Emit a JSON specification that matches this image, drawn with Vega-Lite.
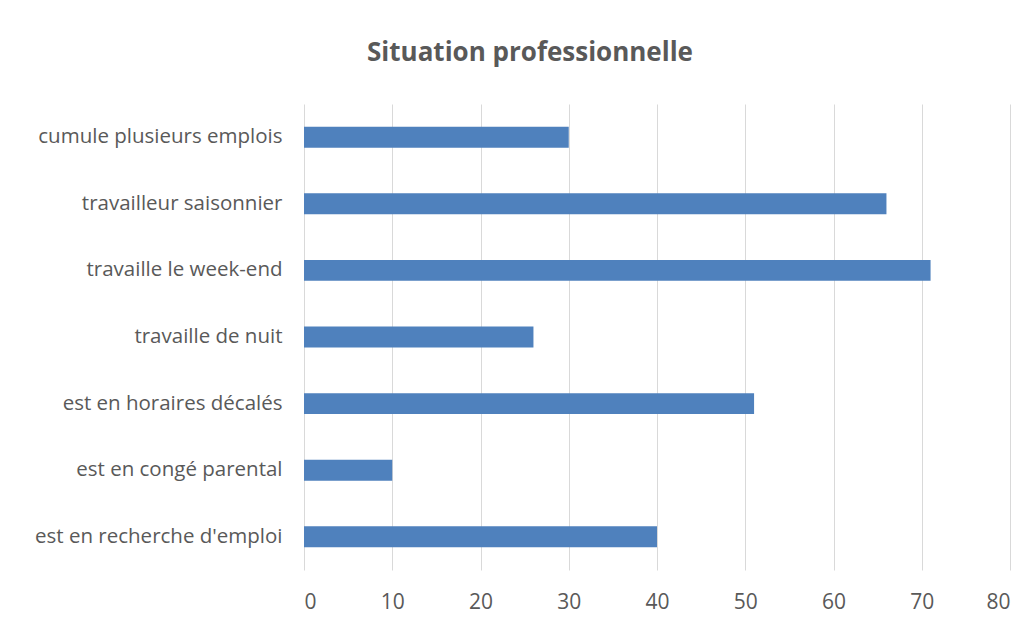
{
  "$schema": "https://vega.github.io/schema/vega-lite/v6.json",
  "autosize": {"type": "none"},
  "width": 706,
  "height": 466,
  "padding": {"left": 304, "top": 104, "right": 24, "bottom": 53},
  "background": "white",
  "title": {
    "text": "Situation professionnelle",
    "font": "Open Sans",
    "fontSize": 26,
    "fontWeight": "bold",
    "color": "#595959",
    "anchor": "middle",
    "dx": -127,
    "offset": 38
  },
  "data": {
    "values": [
      {"situation": "cumule plusieurs emplois", "valeur": 30},
      {"situation": "travailleur saisonnier", "valeur": 66},
      {"situation": "travaille le week-end", "valeur": 71},
      {"situation": "travaille de nuit", "valeur": 26},
      {"situation": "est en horaires décalés", "valeur": 51},
      {"situation": "est en congé parental", "valeur": 10},
      {"situation": "est en recherche d'emploi", "valeur": 40}
    ]
  },
  "mark": {"type": "bar", "color": "#4F81BD"},
  "encoding": {
    "y": {
      "field": "situation",
      "type": "nominal",
      "sort": null,
      "scale": {"paddingInner": 0.685, "paddingOuter": 0.34},
      "axis": {
        "title": null,
        "domain": false,
        "ticks": false,
        "labelFont": "Open Sans",
        "labelFontSize": 20.5,
        "labelColor": "#595959",
        "labelPadding": 22,
        "labelLimit": 400
      }
    },
    "x": {
      "field": "valeur",
      "type": "quantitative",
      "scale": {"domain": [0, 80], "nice": false},
      "axis": {
        "title": null,
        "values": [0, 10, 20, 30, 40, 50, 60, 70, 80],
        "domain": false,
        "ticks": false,
        "grid": true,
        "gridColor": "#D9D9D9",
        "gridWidth": 1,
        "labelFont": "Open Sans",
        "labelFontSize": 21,
        "labelColor": "#595959",
        "labelPadding": 21
      }
    }
  },
  "config": {"view": {"stroke": null}}
}
